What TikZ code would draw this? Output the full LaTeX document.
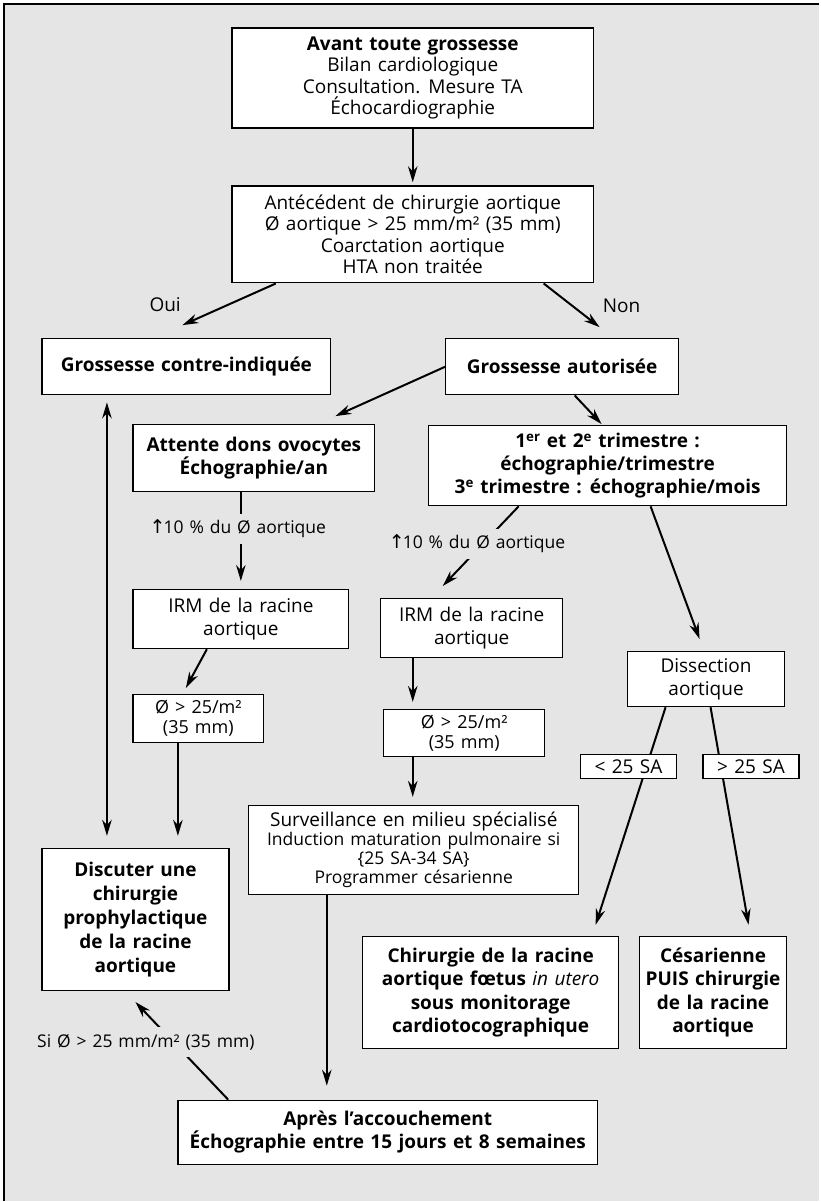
\documentclass[tikz,border=0pt]{standalone}
\usepackage{fontspec}
\setmainfont{Open Sans}[WordSpace=1.3]
\newfontfamily\arrowfont{DejaVu Sans}
\usetikzlibrary{arrows.meta}
\definecolor{bggray}{HTML}{E5E5E5}

\begin{document}
\begin{tikzpicture}[x=1pt,y=-1pt,line width=2pt,>={Stealth[length=16pt,width=9.5pt]},
  box/.style={draw,fill=white,line width=1.3pt,align=center,inner sep=0pt,
    font=\fontsize{19}{21.5}\selectfont},
  txt/.style={font=\fontsize{19}{21.5}\selectfont},
  lbl/.style={fill=bggray,inner xsep=2pt,inner ysep=0pt,minimum height=30pt,
    font=\fontsize{17.5}{20}\selectfont},
  tag/.style={draw,fill=white,line width=1.3pt,inner sep=0pt,minimum width=96pt,
    minimum height=24pt,font=\fontsize{19}{21.5}\selectfont}]
% ================= background and frame =================
\fill[white] (0,0) rectangle (820,1202);
\fill[bggray] (4,4) rectangle (820,1202);
\draw[line width=1.5pt] (4,1202) -- (4,4) -- (820,4);
% ================= boxes =================
\node[box,minimum width=362,minimum height=100] (avant) at (413,78)
  {\textbf{Avant toute grossesse}\\Bilan cardiologique\\Consultation. Mesure TA\\Échocardiographie};
\node[box,minimum width=362,minimum height=97] (antec) at (413,234.5)
  {Antécédent de chirurgie aortique\\Ø aortique > 25 mm/m² (35 mm)\\Coarctation aortique\\HTA non traitée};
\node[box,minimum width=289,minimum height=56,font=\fontsize{19}{21.5}\bfseries] (contra) at (186.5,367)
  {Grossesse contre-indiquée};
\node[box,minimum width=233,minimum height=56,font=\fontsize{19}{21.5}\bfseries] (autor) at (562.5,367)
  {Grossesse autorisée};
\node[box,minimum width=242,minimum height=67,font=\fontsize{19}{22}\bfseries] (attente) at (254,458.5)
  {Attente dons ovocytes\\Échographie/an};
\node[box,minimum width=358,minimum height=80,font=\fontsize{19}{23}\bfseries] (trim) at (608,466)
  {1\textsuperscript{er} et 2\textsuperscript{e} trimestre :\\échographie/trimestre\\3\textsuperscript{e} trimestre : échographie/mois};
\node[box,minimum width=216,minimum height=59,font=\fontsize{19}{23}\selectfont] (irm1) at (241,619.5)
  {IRM de la racine\\aortique};
\node[box,minimum width=182,minimum height=59,font=\fontsize{19}{23}\selectfont] (irm2) at (472,628.5)
  {IRM de la racine\\aortique};
\node[box,minimum width=131,minimum height=48,font=\fontsize{18}{20}\selectfont] (diam1) at (198.5,719)
  {Ø > 25/m²\\(35 mm)};
\node[box,minimum width=161,minimum height=47,font=\fontsize{18}{20}\selectfont] (diam2) at (464.5,733.5)
  {Ø > 25/m²\\(35 mm)};
\node[box,minimum width=157,minimum height=55,font=\fontsize{19}{23}\selectfont] (dissect) at (706.5,679.5)
  {Dissection\\aortique};
\node[box,minimum width=187,minimum height=142,font=\fontsize{19}{24}\bfseries] (discuter) at (135.5,920)
  {Discuter une\\chirurgie\\prophylactique\\de la racine\\aortique};
\node[box,minimum width=330,minimum height=89,font=\fontsize{17.5}{19}\selectfont] (surv) at (414,850.5)
  {{\fontsize{19}{19}\selectfont Surveillance en milieu spécialisé}\\Induction maturation pulmonaire si\\\{25 SA-34 SA\}\\Programmer césarienne};
\node[box,minimum width=256,minimum height=112,font=\fontsize{19}{23.5}\bfseries] (chir) at (491,993)
  {Chirurgie de la racine\\aortique fœtus \textmd{\textit{in utero}}\\sous monitorage\\cardiotocographique};
\node[box,minimum width=147,minimum height=112,font=\fontsize{19}{23.5}\bfseries] (ces) at (713.5,993)
  {Césarienne\\PUIS chirurgie\\de la racine\\aortique};
\node[box,minimum width=420,minimum height=64,font=\fontsize{19}{23}\bfseries] (apres) at (388,1133)
  {Après l’accouchement\\Échographie entre 15 jours et 8 semaines};
% ================= arrows =================
\draw[->,shorten >=3pt] (avant) -- (antec);
\draw[->] ([xshift=-137pt]antec.south) -- node[txt,pos=.5,xshift=-64pt] (oui) {Oui}
  ([xshift=-4pt,yshift=13pt]contra.north);
\draw[->] ([xshift=131pt]antec.south) -- node[txt,pos=.5,xshift=50pt] (non) {Non}
  ([xshift=37.5pt,yshift=11pt]autor.north);
\draw[->] (autor.west) -- ([xshift=-40pt,yshift=8pt]attente.north east);
\draw[->] ([xshift=12.5pt]autor.south) -- ([xshift=-6pt,yshift=1pt]trim.north);
\draw[->] (attente.south -| irm1.north) -- node[lbl,pos=.41,xshift=-3pt] (hausse1)
  {{\arrowfont\fontsize{19}{20}\selectfont ↑}\kern-2pt 10 \% du Ø aortique} ([yshift=8pt]irm1.north);
\draw[->] ([xshift=-89pt]trim.south) -- node[lbl,pos=.47,xshift=-6pt] (hausse2)
  {{\arrowfont\fontsize{19}{20}\selectfont ↑}\kern-2pt 10 \% du Ø aortique} ([xshift=-29pt,yshift=12pt]irm2.north);
\draw[->] ([xshift=43pt]trim.south) -- ([xshift=-6.5pt,yshift=12pt]dissect.north);
\draw[->] ([xshift=-34pt]irm1.south) -- ([xshift=-12.5pt,yshift=6pt]diam1.north);
\draw[->] ([xshift=-59pt]irm2.south) -- ([xshift=-51.5pt,yshift=7pt]diam2.north);
\draw[<->] ([xshift=-79.5pt,yshift=-7pt]contra.south) -- ([xshift=-28.5pt,yshift=12pt]discuter.north);
\draw[->] ([xshift=-20.5pt]diam1.south) -- ([xshift=42.5pt,yshift=12pt]discuter.north);
\draw[->] ([xshift=-51.5pt]diam2.south) -- ([xshift=-1pt,yshift=8pt]surv.north);
\draw[->] ([xshift=-87pt]surv.south) -- ([xshift=-61pt,yshift=14pt]apres.north);
\draw[->] ([xshift=51pt]apres.north west) -- node[lbl,pos=.586,xshift=-28pt] (seuil)
  {Si Ø > 25 mm/m² (35 mm)} ([yshift=-11pt]discuter.south);
% dissection: the two terms sit on the lines
\draw[->] ([xshift=-40.5pt]dissect.south) -- node[tag,pos=.274,xshift=-18pt] (avant25) {< 25 SA}
  ([xshift=105pt,yshift=11pt]chir.north);
\draw[->] ([xshift=4.5pt]dissect.south) -- node[tag,pos=.274,xshift=30pt] (apres25) {> 25 SA}
  ([xshift=35.5pt,yshift=11pt]ces.north);
\end{tikzpicture}
\end{document}
